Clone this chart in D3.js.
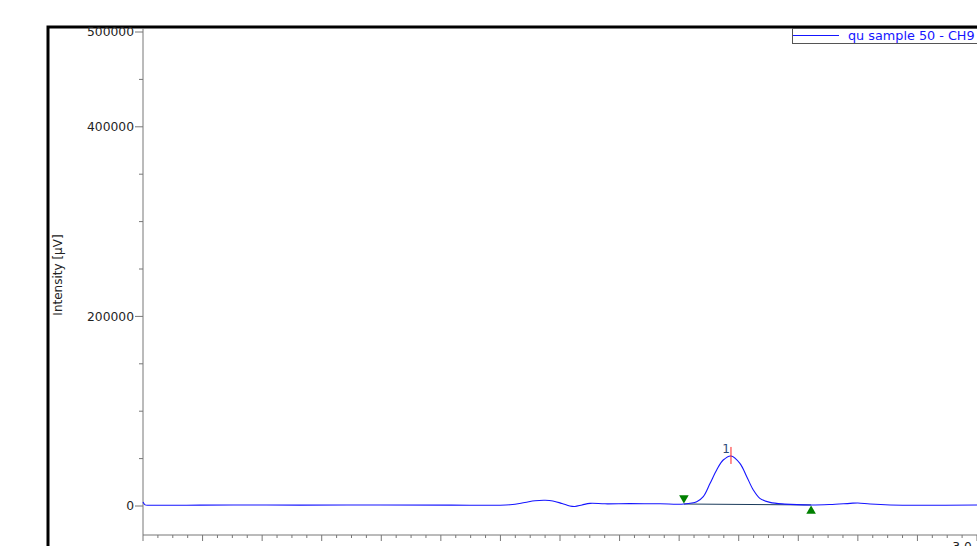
<!DOCTYPE html>
<html>
<head>
<meta charset="utf-8">
<script src="https://cdn.jsdelivr.net/npm/d3@7"></script>
<style>
  body { margin: 0; background: #fff; }
  svg { display: block; font-family: "DejaVu Sans", Verdana, sans-serif; }
</style>
</head>
<body>
<div id="graph"></div>
<script>
// retention time [min] and intensity [uV]
const times = [0.250, 0.257, 0.270, 0.300, 0.441, 0.609, 0.777, 1.046, 1.281, 1.482,
  1.532, 1.566, 1.600, 1.626, 1.657, 1.683, 1.700, 1.724, 1.751, 1.801,
  1.885, 1.986, 2.066, 2.109, 2.131, 2.154, 2.176, 2.198, 2.224, 2.254,
  2.277, 2.299, 2.321, 2.355, 2.405, 2.493, 2.556, 2.624, 2.650, 2.691,
  2.758, 3.050];
const intensity = [4200, 1200, 800, 800, 900, 1100, 900, 1100, 900, 1300,
  3700, 5500, 6000, 5300, 2600, 0, -500, 1100, 2800, 2300,
  2500, 2300, 2100, 4500, 9800, 23900, 38000, 48500, 52800, 45000,
  30900, 16900, 8100, 3800, 2000, 1100, 1600, 2800, 3200, 2100,
  1100, 1100];

const seriesName = "qu sample 50 - CH9";
const peakNumbers = ["1"];
const peakApex = [{ t: 2.224, v: 52800 }];
const peakStart = [{ t: 2.066, v: 2100 }];
const peakEnd = [{ t: 2.493, v: 1100 }];

const yLabelValues = [0, 200000, 400000, 500000];
const yMinorValues = d3.range(0, 11).map(i => i * 50000);
const xTickValues = d3.range(0, 57).map(i => +(0.25 + i * 0.05).toFixed(2));
const xMajorValues = xTickValues.filter((d, i) => i % 4 === 0);
const xLabelValues = [3.0];

const width = 977, height = 546;
const plot = { left: 143, right: 977, top: 32, bottom: 506, axisY: 535 };

const svg = d3.select("#graph").append("svg")
  .attr("width", width)
  .attr("height", height);

const x = d3.scaleLinear().domain([0.25, 3.05]).range([plot.left, plot.right]);
const y = d3.scaleLinear().domain([0, 500000]).range([plot.bottom, plot.top]);

// outer frame (only the top and left edges are in view)
svg.append("path")
  .attr("d", "M48,560V27H1000")
  .attr("fill", "none")
  .attr("stroke", "#000")
  .attr("stroke-width", 3);

// y axis
const axisColor = "#777";
svg.append("line")
  .attr("x1", plot.left).attr("x2", plot.left)
  .attr("y1", 28).attr("y2", plot.axisY)
  .attr("stroke", axisColor);

svg.selectAll(".ytick")
  .data(yMinorValues)
  .enter()
  .append("line")
    .attr("x1", d => plot.left - (yLabelValues.includes(d) ? 8 : 4))
    .attr("x2", plot.left)
    .attr("y1", d => y(d)).attr("y2", d => y(d))
    .attr("stroke", axisColor);

svg.selectAll(".ylabel")
  .data(yLabelValues)
  .enter()
  .append("text")
    .attr("x", plot.left - 9)
    .attr("y", d => y(d))
    .attr("dy", "0.36em")
    .attr("text-anchor", "end")
    .attr("font-size", 12.3)
    .attr("fill", "#222")
    .text(d => d);

svg.append("text")
  .attr("transform", "translate(62,275)rotate(-90)")
  .attr("text-anchor", "middle")
  .attr("font-size", 12)
  .attr("fill", "#222")
  .text("Intensity [\u00b5V]");

// x axis
svg.append("line")
  .attr("x1", plot.left).attr("x2", plot.right)
  .attr("y1", plot.axisY).attr("y2", plot.axisY)
  .attr("stroke", axisColor);

svg.selectAll(".xtick")
  .data(xTickValues)
  .enter()
  .append("line")
    .attr("x1", d => x(d)).attr("x2", d => x(d))
    .attr("y1", plot.axisY)
    .attr("y2", d => plot.axisY + (xMajorValues.includes(d) ? 6 : 3))
    .attr("stroke", axisColor);

svg.selectAll(".xlabel")
  .data(xLabelValues)
  .enter()
  .append("text")
    .attr("x", d => x(d))
    .attr("y", 551)
    .attr("text-anchor", "middle")
    .attr("font-size", 12.3)
    .attr("fill", "#222")
    .text(d => d.toFixed(1));

// chromatogram trace
const data = times.map((t, i) => ({ t: t, v: intensity[i] }));
const line = d3.line()
  .x(d => x(d.t))
  .y(d => y(d.v))
  .curve(d3.curveCatmullRom.alpha(0.5));

// peak baseline
svg.selectAll(".base")
  .data(peakStart)
  .enter()
  .append("line")
    .attr("x1", d => x(d.t))
    .attr("y1", d => y(d.v))
    .attr("x2", (d, i) => x(peakEnd[i].t))
    .attr("y2", (d, i) => y(peakEnd[i].v))
    .attr("stroke", "#1b3b5b")
    .attr("stroke-width", 1);

svg.append("path")
  .datum(data)
  .attr("d", line)
  .attr("fill", "none")
  .attr("stroke", "#1515ff")
  .attr("stroke-width", 1.1);

// peak start / end markers
const tri = d3.symbol().type(d3.symbolTriangle).size(40);
svg.selectAll(".pstart")
  .data(peakStart)
  .enter()
  .append("path")
    .attr("d", tri)
    .attr("transform", d => "translate(" + x(d.t) + "," + (y(d.v) - 6) + ")rotate(180)")
    .attr("fill", "#008000");

svg.selectAll(".pend")
  .data(peakEnd)
  .enter()
  .append("path")
    .attr("d", tri)
    .attr("transform", d => "translate(" + x(d.t) + "," + (y(d.v) + 6) + ")")
    .attr("fill", "#008000");

// apex marker and number
svg.selectAll(".apex")
  .data(peakApex)
  .enter()
  .append("line")
    .attr("x1", d => x(d.t)).attr("x2", d => x(d.t))
    .attr("y1", d => y(d.v) - 9)
    .attr("y2", d => y(d.v) + 8)
    .attr("stroke", "#ff2020");

svg.selectAll(".pnum")
  .data(peakApex)
  .enter()
  .append("text")
    .attr("x", d => x(d.t) - 1)
    .attr("y", d => y(d.v) - 3)
    .attr("text-anchor", "end")
    .attr("font-size", 12)
    .attr("fill", "#2b4a78")
    .text((d, i) => peakNumbers[i]);

// legend
const legend = svg.append("g").attr("transform", "translate(792,28)");
legend.append("rect")
  .attr("x", 0.5).attr("y", 0.5)
  .attr("width", 200).attr("height", 15)
  .attr("fill", "#fff")
  .attr("stroke", "#555");
legend.append("line")
  .attr("x1", 1).attr("x2", 47)
  .attr("y1", 7.5).attr("y2", 7.5)
  .attr("stroke", "#1515ff");
legend.append("text")
  .attr("x", 56).attr("y", 12)
  .attr("font-size", 12.8)
  .attr("fill", "#1515ff")
  .text(seriesName);
</script>
</body>
</html>
